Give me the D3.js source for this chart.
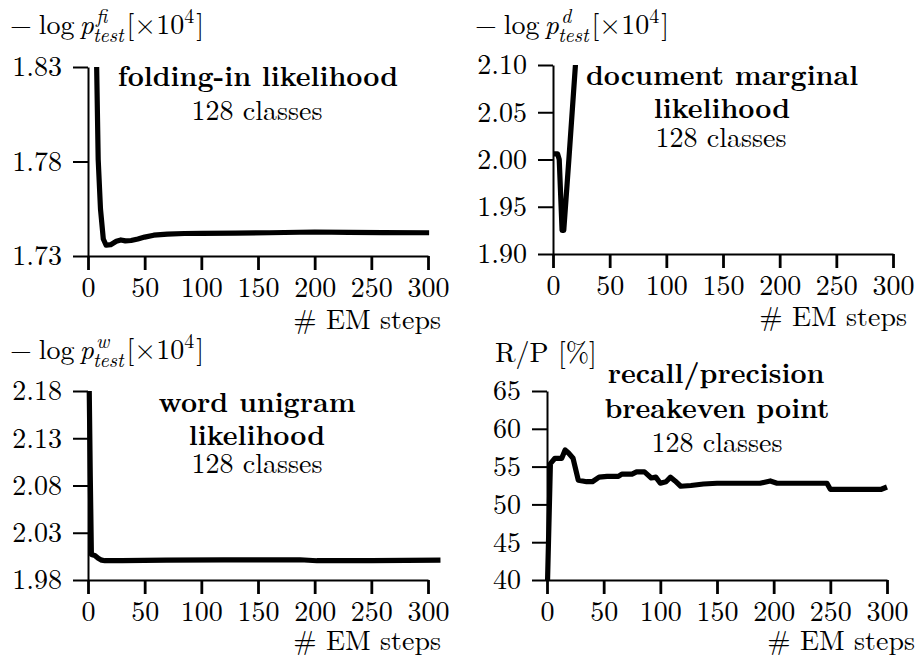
<!DOCTYPE html>
<html>
<head>
<meta charset="utf-8">
<script src="https://cdn.jsdelivr.net/npm/d3@7"></script>
<style>
  html, body { margin: 0; padding: 0; background: #fff; }
  svg { display: block; }
</style>
</head>
<body>
<script>
// ---------- data ----------
const xTicks = [0, 50, 100, 150, 200, 250, 300];

const foldSteps = [7.5, 9, 11, 13.5, 16, 20, 25, 29, 33, 38, 44, 50, 58, 70, 85, 100, 130, 160, 200, 230, 260, 301];
const foldVals  = [1.835, 1.781, 1.755, 1.739, 1.7357, 1.736, 1.7378, 1.7385, 1.738, 1.7382, 1.739, 1.740, 1.7410, 1.7416, 1.7419, 1.742, 1.7421, 1.7423, 1.7427, 1.7425, 1.7424, 1.7423];
const foldTicks = [1.73, 1.78, 1.83];

const docSteps = [0, 4, 5.5, 8, 9.5, 14, 20.5];
const docVals  = [2.006, 2.006, 2.0, 1.925, 1.925, 2.0, 2.112];
const docTicks = [1.90, 1.95, 2.00, 2.05, 2.10];

const wordSteps = [1, 2, 3, 6, 9, 12, 15, 30, 69, 120, 187, 202, 250, 311];
const wordVals  = [2.19, 2.09, 2.007, 2.006, 2.003, 2.001, 2.0004, 2.0006, 2.001, 2.0012, 2.0014, 2.0004, 2.0006, 2.001];
const wordTicks = [1.98, 2.03, 2.08, 2.13, 2.18];

const rpSteps = [0.5, 3, 7, 13, 16, 19, 23, 27.6, 35, 40, 46, 53, 63, 66, 75, 79, 86, 92, 96, 100, 105, 109, 113, 118, 127, 138, 150, 188, 197, 203, 247, 250, 295, 300];
const rpVals  = [40, 55.4, 56.1, 56.1, 57.2, 56.8, 56.1, 53.2, 53.0, 53.0, 53.6, 53.7, 53.7, 54.0, 54.0, 54.3, 54.3, 53.5, 53.6, 52.8, 53.0, 53.6, 53.1, 52.4, 52.5, 52.7, 52.8, 52.8, 53.1, 52.8, 52.8, 52.0, 52.0, 52.3];
const rpTicks = [40, 45, 50, 55, 60, 65];

const xLabel = "# EM steps";
const classesLabel = "128 classes";

// ---------- layout ----------
const FONT = '"Latin Modern Roman", "Liberation Serif", serif';
const FS = 28;
const svg = d3.select("body").append("svg").attr("width", 919).attr("height", 658)
  .attr("font-family", FONT);

const panels = [
  { steps: foldSteps, vals: foldVals, ticks: foldTicks, fmt: d3.format(".2f"),
    x0: 88, x1: 428, yTop: 67, yBot: 256, sup: "fi", labX: 10, labY: 34,
    titles: [{t: "folding-in likelihood", b: true, cx: 258, y: 86, len: 287}, {t: classesLabel, cx: 257, y: 120, len: 133}],
    xlabRight: 441, xlabY: 329 },
  { steps: docSteps, vals: docVals, ticks: docTicks, fmt: d3.format(".2f"),
    x0: 553, x1: 893, yTop: 65, yBot: 254, sup: "d", labX: 475, labY: 34,
    titles: [{t: "document marginal", b: true, cx: 722, y: 85, len: 281}, {t: "likelihood", b: true, cx: 722, y: 118, len: 139}, {t: classesLabel, cx: 721, y: 147, len: 133}],
    xlabRight: 907, xlabY: 326 },
  { steps: wordSteps, vals: wordVals, ticks: wordTicks, fmt: d3.format(".2f"),
    x0: 88, x1: 428, yTop: 391, yBot: 580, sup: "w", labX: 10, labY: 359,
    titles: [{t: "word unigram", b: true, cx: 257, y: 412, len: 201}, {t: "likelihood", b: true, cx: 257, y: 445, len: 139}, {t: classesLabel, cx: 257, y: 473, len: 133}],
    xlabRight: 441, xlabY: 650 },
  { steps: rpSteps, vals: rpVals, ticks: rpTicks, fmt: d3.format("d"),
    x0: 547, x1: 887, yTop: 391, yBot: 580, sup: null, labX: 495, labY: 362, plainLabel: "R/P [%]",
    titles: [{t: "recall/precision", b: true, cx: 716, y: 383, len: 224}, {t: "breakeven point", b: true, cx: 717, y: 418, len: 229}, {t: classesLabel, cx: 717, y: 452, len: 133}],
    xlabRight: 915, xlabY: 650 }
];

function mathLabel(x, y, sup) {
  const g = svg.append("g");
  let cx = x;
  const put = (s, o) => {
    o = o || {};
    const t = g.append("text").attr("x", o.x != null ? o.x : cx).attr("y", y + (o.dy || 0)).text(s)
      .attr("font-family", FONT).attr("fill", "#000")
      .attr("font-size", o.size || FS).attr("font-style", o.italic ? "italic" : "normal");
    return t.node().getComputedTextLength();
  };
  cx += put("\u2212") + 7;
  cx += put("log") + 5;
  const pEnd = cx + put("p", {italic: true});
  const w1 = put(sup, {italic: true, size: 20, dy: -11, x: pEnd + 2});
  const w2 = put("test", {italic: true, size: 20, dy: 8, x: pEnd - 1});
  cx = Math.max(pEnd + 2 + w1, pEnd - 1 + w2) + 3;
  cx += put("[\u00d710");
  cx += put("4", {size: 20, dy: -11}) + 2;
  put("]");
}

panels.forEach((p, i) => {
  const x = d3.scaleLinear().domain([0, 300]).range([p.x0, p.x1]);
  const y = d3.scaleLinear().domain([p.ticks[0], p.ticks[p.ticks.length - 1]]).range([p.yBot, p.yTop]);

  const clipId = "clip" + i;
  svg.append("clipPath").attr("id", clipId).append("rect")
    .attr("x", p.x0 - 5).attr("y", p.yTop).attr("width", p.x1 - p.x0 + 40).attr("height", p.yBot - p.yTop);

  const gx = svg.append("g").attr("transform", `translate(0,${p.yBot})`)
    .call(d3.axisBottom(x).tickValues(xTicks).tickSize(14).tickSizeOuter(0).tickPadding(7));
  const gy = svg.append("g").attr("transform", `translate(${p.x0},0)`)
    .call(d3.axisLeft(y).tickValues(p.ticks).tickFormat(p.fmt).tickSize(15).tickSizeOuter(0).tickPadding(11));

  [gx, gy].forEach(g => {
    g.attr("font-family", FONT).attr("font-size", FS);
    g.select(".domain").attr("stroke", "#000").attr("stroke-width", 2);
    g.selectAll(".tick line").attr("stroke", "#000").attr("stroke-width", 2);
    g.selectAll(".tick text").attr("fill", "#000").attr("font-family", FONT).attr("font-size", FS);
  });
  gx.selectAll(".tick line").attr("stroke-width", 2.8);

  const line = d3.line().x((d, k) => x(p.steps[k])).y(d => y(d));
  svg.append("path").datum(p.vals)
    .attr("clip-path", `url(#${clipId})`)
    .attr("fill", "none").attr("stroke", "#000").attr("stroke-width", 5.2)
    .attr("stroke-linejoin", "round").attr("stroke-linecap", "butt")
    .attr("d", line);

  p.titles.forEach(t => {
    const el = svg.append("text").attr("x", t.cx).attr("y", t.y).attr("text-anchor", "middle")
      .attr("font-family", FONT).attr("fill", "#000")
      .attr("font-size", FS).attr("font-weight", t.b ? "bold" : "normal").text(t.t);
    const w = el.node().getComputedTextLength();
    if (t.len && Math.abs(w - t.len) / t.len > 0.04) el.attr("textLength", t.len).attr("lengthAdjust", "spacingAndGlyphs");
  });

  svg.append("text").attr("x", p.xlabRight).attr("y", p.xlabY).attr("text-anchor", "end")
    .attr("font-family", FONT).attr("fill", "#000").attr("font-size", FS).text(xLabel);

  if (p.sup) mathLabel(p.labX, p.labY, p.sup);
  else svg.append("text").attr("x", p.labX).attr("y", p.labY).attr("font-family", FONT)
    .attr("fill", "#000").attr("font-size", FS).text(p.plainLabel);
});
</script>
</body>
</html>
